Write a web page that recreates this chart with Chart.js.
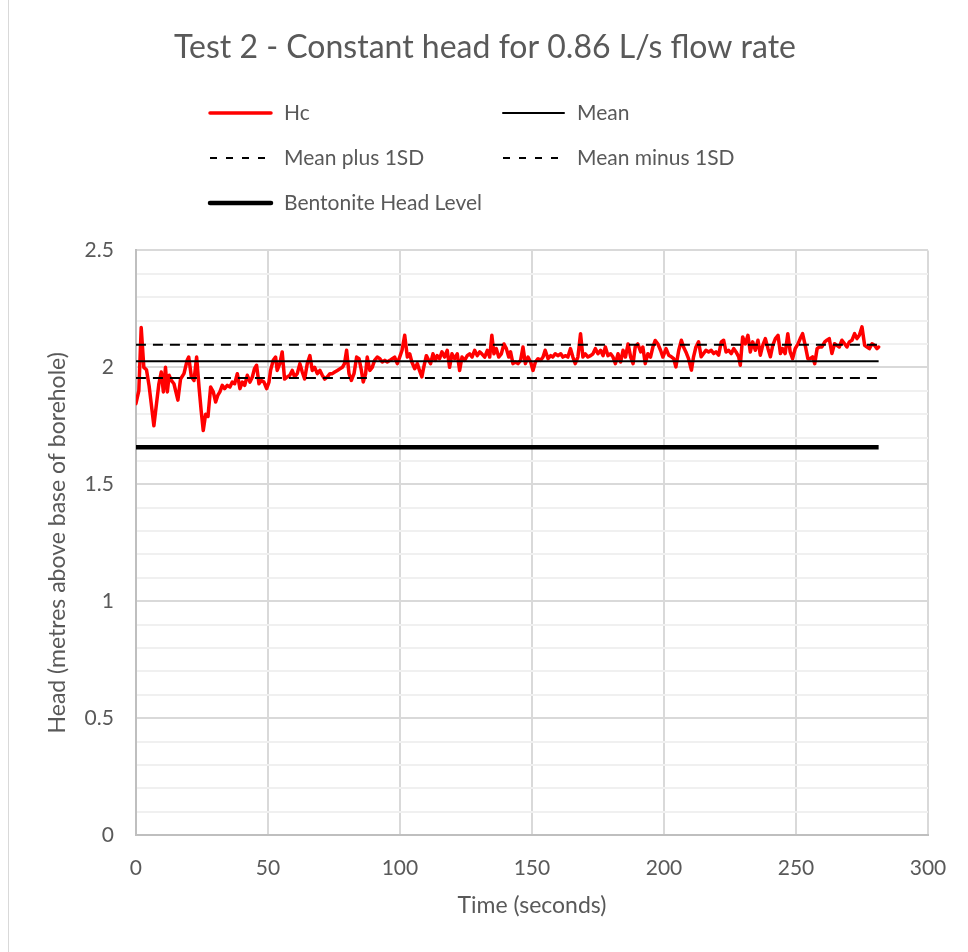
<!DOCTYPE html>
<html>
<head>
<meta charset="utf-8">
<title>Test 2 - Constant head for 0.86 L/s flow rate</title>
<script src="https://cdn.jsdelivr.net/npm/chart.js@4.4.1/dist/chart.umd.min.js"></script>
<style>
  html, body { margin: 0; padding: 0; background: #fff; }
  #wrap { position: relative; width: 968px; height: 952px; }
  #frame { position: absolute; left: 8px; top: 0; height: 952px; border-left: 1px solid #d9d9d9; }
</style>
</head>
<body>
<div id="wrap">
  <canvas id="headChart" width="968" height="952"></canvas>
  <div id="frame"></div>
</div>
<script>
// Test 2 - constant head readings

const timeSec = [
  0, 1.1, 2, 3, 4, 5, 5.8, 6.8, 7.8, 8.7, 9.6, 10.4, 11.2, 11.9, 12.6, 13.4, 14.4, 15.9, 16.9, 18.2,
  19.4, 20, 21, 22, 23, 23.9, 24.7, 25.5, 26.4, 27.3, 28.3, 29.3, 30.2, 31, 31.8, 32.7, 33.6, 34.6, 35.6, 36.5,
  37.4, 38.4, 39.4, 40.3, 41.2, 42.2, 43.2, 44.1, 44.9, 45.7, 46.6, 47.5, 48.5, 49.5, 50.4, 51, 52, 52.9, 53.5, 54.5,
  55.4, 56.3, 57.3, 58.3, 59.2, 60.1, 61.1, 62.1, 63, 63.9, 64.9, 65.9, 66.8, 67.7, 68.7, 69.7, 70.6, 71.5, 72.5, 73.5,
  74.4, 75.3, 76.3, 77.3, 78.2, 79, 79.8, 80.7, 81.6, 82.6, 83.6, 84.5, 85.4, 86.1, 87, 87.6, 88.6, 89.5, 90.4, 91.4,
  92.4, 93.3, 94.2, 95.2, 96.2, 97.1, 98, 99,
  99.9, 100.8, 101.8, 102.8, 103.7, 104.5, 105.6, 106.6, 107.4, 108.3, 109, 110, 110.9, 111.6, 112.5, 113.4, 114.1, 115, 115.9, 116.9,
  117.9, 118.8, 119.7, 120.7, 121.7, 122.6, 123.5, 124.5, 125.5, 126.4, 127.3, 128.3, 129.3, 130.2, 131, 132.1, 133.1, 134, 134.8, 135.6,
  136.5, 137.4, 138.4, 139.4, 140.3, 141.2, 141.9, 142.8, 143.7, 144.7, 145.7, 146.6, 147.5, 148.5, 149.5, 150.4, 151.3, 152.3, 153.3, 154.2,
  155, 156.1, 157.1, 157.9, 158.8, 159.8, 160.9, 161.7, 162.6, 163.6, 164.6, 165.5, 166.4, 167.4, 168.4, 169.3, 170.2, 171.2, 172.2, 173.1,
  174, 175, 176, 176.9, 177.8, 178.8, 179.8, 180.7, 181.6, 182.6, 183.6, 184.5, 185.4, 186.4, 187.4, 188.3, 189.1, 190.1, 191.2, 192,
  192.9, 193.9, 194.9, 195.8, 196.7, 197.7, 198.7, 199.6,
  200.8, 201.8, 202.8, 203.7, 204.5, 205.6, 206.6, 207.4, 208.3, 209.3, 210.4, 211.2, 212.1, 213.1, 214.1, 215, 215.9, 216.9, 217.9, 218.8,
  219.7, 220.7, 221.7, 222.6, 223.5, 224.5, 225.5, 226.4, 227.3, 228.3, 228.9, 229.8, 230.8, 231.8, 232.7, 233.6, 234.6, 235.6, 236.5, 237.4,
  238.4, 239.4, 240.3, 241.2, 242.2, 243.2, 244.1, 244.9, 245.9, 246.9, 247.8, 248.7, 249.7, 250.8, 251.6, 252.5, 253.5, 254.5, 255.4, 256.3,
  257.1, 258, 258.8, 259.8, 260.9, 261.7, 262.6, 263.6, 264.6, 265.5, 266.4, 267.4, 268.4, 269.3, 270.2, 271.2, 272.2, 273.1, 274, 275,
  276, 276.9, 277.8, 278.8, 279.8, 280.7, 281.3
];

const headHc = [
  1.845, 1.90, 2.17, 2.00, 1.99, 1.92, 1.845, 1.75, 1.845, 1.93, 1.98, 1.895, 2.00, 1.895, 1.966, 1.944, 1.93, 1.86, 1.95, 1.973,
  2.03, 2.044, 1.96, 1.944, 2.044, 1.916, 1.816, 1.73, 1.80, 1.79, 1.916, 1.895, 1.852, 1.88, 1.895, 1.923, 1.909, 1.923, 1.916, 1.937,
  1.93, 1.973, 1.909, 1.937, 1.923, 1.966, 1.937, 1.959, 1.994, 2.009, 1.93, 1.944, 1.937, 1.909, 1.937, 1.987, 2.03, 2.044, 1.987, 2.016,
  2.066, 1.95, 1.959, 1.966, 1.987, 1.959, 1.973, 2.016, 1.98, 1.95, 2.016, 2.05, 1.987, 2.00, 1.973, 1.987, 1.966, 1.95, 1.959, 1.973,
  1.973, 1.98, 1.987, 1.994, 2.00, 2.016, 2.073, 1.973, 1.944, 1.973, 2.044, 2.037, 1.987, 1.937, 1.973, 2.044, 1.987, 2.00, 2.03, 2.044,
  2.037, 2.023, 2.03, 2.023, 2.03, 2.037, 2.044, 2.016,
  2.044, 2.073, 2.137, 2.044, 2.058, 2.023, 1.994, 2.016, 1.987, 1.959, 2.00, 2.05, 2.03, 2.016, 2.058, 2.03, 2.05, 2.037, 2.066, 2.044,
  2.073, 2.00, 2.058, 2.037, 2.058, 1.987, 2.044, 2.03, 2.05, 2.058, 2.044, 2.073, 2.05, 2.066, 2.058, 2.044, 2.073, 2.044, 2.137, 2.058,
  2.08, 2.044, 2.058, 2.10, 2.08, 2.044, 2.066, 2.016, 2.023, 2.016, 2.03, 2.087, 2.016, 2.044, 2.023, 1.987, 2.023, 2.037, 2.03, 2.044,
  2.073, 2.037, 2.05, 2.044, 2.058, 2.05, 2.058, 2.044, 2.05, 2.044, 2.08, 2.044, 2.016, 2.044, 2.144, 2.044, 2.058, 2.044, 2.05, 2.058,
  2.08, 2.058, 2.073, 2.05, 2.087, 2.05, 2.058, 2.044, 2.016, 2.058, 2.023, 2.073, 2.044, 2.10, 2.044, 2.016, 2.087, 2.10, 2.066, 2.087,
  2.016, 2.058, 2.044, 2.087, 2.115, 2.10, 2.073, 2.044,
  2.08, 2.052, 2.045, 2.037, 2.002, 2.073, 2.116, 2.087, 2.066, 2.037, 1.988, 2.045, 2.087, 2.109, 2.045, 2.059, 2.073, 2.066, 2.073, 2.059,
  2.066, 2.052, 2.109, 2.116, 2.066, 2.073, 2.059, 2.08, 2.066, 2.045, 2.009, 2.13, 2.10, 2.137, 2.066, 2.109, 2.073, 2.116, 2.052, 2.094,
  2.123, 2.08, 2.045, 2.094, 2.123, 2.137, 2.059, 2.08, 2.059, 2.144, 2.066, 2.037, 2.08, 2.101, 2.123, 2.144, 2.094, 2.037, 2.037, 2.045,
  2.016, 2.08, 2.087, 2.087, 2.109, 2.116, 2.123, 2.059, 2.101, 2.094, 2.087, 2.116, 2.101, 2.087, 2.109, 2.116, 2.144, 2.123, 2.137, 2.173,
  2.094, 2.087, 2.08, 2.101, 2.094, 2.08, 2.087
];

// summary levels (metres)
const meanHead = 2.026;
const sdHead = 0.071;
const bentoniteHead = 1.658;

// the reference lines run from the first to the last reading
const lineSpan = [timeSec[0], timeSec[timeSec.length - 1]];

const xTicks = [0, 50, 100, 150, 200, 250, 300];
const yTicks = [0, 0.5, 1, 1.5, 2, 2.5];

const textGrey = '#595959';
const fontFamily = "Lato, 'Liberation Sans', sans-serif";

function flatLine(level) {
  return lineSpan.map(t => ({ x: t, y: level }));
}

const hcPoints = timeSec.map((t, i) => ({ x: t, y: headHc[i] }));

// legend laid out as in the original: two columns, three rows
const legendSlots = [
  { index: 0, x: 210, y: 113, dash: [] },
  { index: 1, x: 503, y: 113, dash: [] },
  { index: 2, x: 210, y: 158, dash: [7, 9] },
  { index: 3, x: 503, y: 158, dash: [7, 9] },
  { index: 4, x: 210, y: 203, dash: [] }
];

const gridLegend = {
  id: 'gridLegend',
  afterDraw(chart) {
    const ctx = chart.ctx;
    ctx.save();
    ctx.font = '21px ' + fontFamily;
    ctx.fillStyle = textGrey;
    ctx.textBaseline = 'middle';
    ctx.lineCap = 'round';
    legendSlots.forEach(slot => {
      const ds = chart.data.datasets[slot.index];
      ctx.beginPath();
      ctx.strokeStyle = ds.borderColor;
      ctx.lineWidth = ds.borderWidth;
      ctx.lineCap = slot.dash.length ? 'butt' : 'round';
      ctx.setLineDash(slot.dash);
      ctx.moveTo(slot.x, slot.y);
      ctx.lineTo(slot.x + 61, slot.y);
      ctx.stroke();
      ctx.fillText(ds.label, slot.x + 74, slot.y);
    });
    ctx.restore();
  }
};

function isMajor(v) {
  return yTicks.some(t => Math.abs(t - v) < 1e-6);
}

new Chart(document.getElementById('headChart'), {
  type: 'scatter',
  data: {
    datasets: [
      {
        label: 'Hc',
        data: hcPoints,
        showLine: true,
        borderColor: '#ff0000',
        borderWidth: 3.5,
        borderJoinStyle: 'round',
        borderCapStyle: 'round',
        pointRadius: 0,
        order: 5
      },
      {
        label: 'Mean',
        data: flatLine(meanHead),
        showLine: true,
        borderColor: '#000000',
        borderWidth: 2,
        pointRadius: 0
      },
      {
        label: 'Mean plus 1SD',
        data: flatLine(meanHead + sdHead),
        showLine: true,
        borderColor: '#000000',
        borderWidth: 2,
        borderDash: [10, 7],
        pointRadius: 0
      },
      {
        label: 'Mean minus 1SD',
        data: flatLine(meanHead - sdHead),
        showLine: true,
        borderColor: '#000000',
        borderWidth: 2,
        borderDash: [10, 7],
        pointRadius: 0
      },
      {
        label: 'Bentonite Head Level',
        data: flatLine(bentoniteHead),
        showLine: true,
        borderColor: '#000000',
        borderWidth: 4.5,
        pointRadius: 0
      }
    ]
  },
  options: {
    responsive: false,
    animation: false,
    layout: {
      padding: { left: 42, right: 40, top: 0, bottom: 29 }
    },
    plugins: {
      legend: { display: false },
      tooltip: { enabled: false },
      title: {
        display: true,
        text: 'Test 2 - Constant head for 0.86 L/s flow rate',
        color: textGrey,
        font: { family: fontFamily, size: 32, weight: 'normal' },
        padding: { top: 28, bottom: 184 }
      }
    },
    scales: {
      x: {
        type: 'linear',
        min: 0,
        max: 300,
        afterBuildTicks: axis => { axis.ticks = xTicks.map(v => ({ value: v })); },
        ticks: {
          color: textGrey,
          font: { family: fontFamily, size: 21 },
          padding: 20,
          maxRotation: 0
        },
        grid: { color: '#d9d9d9', lineWidth: 2, drawTicks: false },
        border: { color: '#bfbfbf', width: 2 },
        title: {
          display: true,
          text: 'Time (seconds)',
          color: textGrey,
          font: { family: fontFamily, size: 23 },
          padding: { top: -9, bottom: 4 }
        }
      },
      y: {
        type: 'linear',
        min: 0,
        max: 2.5,
        ticks: {
          stepSize: 0.1,
          autoSkip: false,
          color: textGrey,
          font: { family: fontFamily, size: 21 },
          padding: 22,
          callback: v => (isMajor(v) ? String(Math.round(v * 10) / 10) : '')
        },
        grid: {
          drawTicks: false,
          lineWidth: 2,
          color: c => (isMajor(c.tick.value) ? '#d9d9d9' : '#f0f0f0')
        },
        border: { color: '#bfbfbf', width: 2 },
        title: {
          display: true,
          text: 'Head (metres above base of borehole)',
          color: textGrey,
          font: { family: fontFamily, size: 23 },
          padding: { top: 2, bottom: -9 }
        }
      }
    }
  },
  plugins: [gridLegend]
});
</script>
</body>
</html>
